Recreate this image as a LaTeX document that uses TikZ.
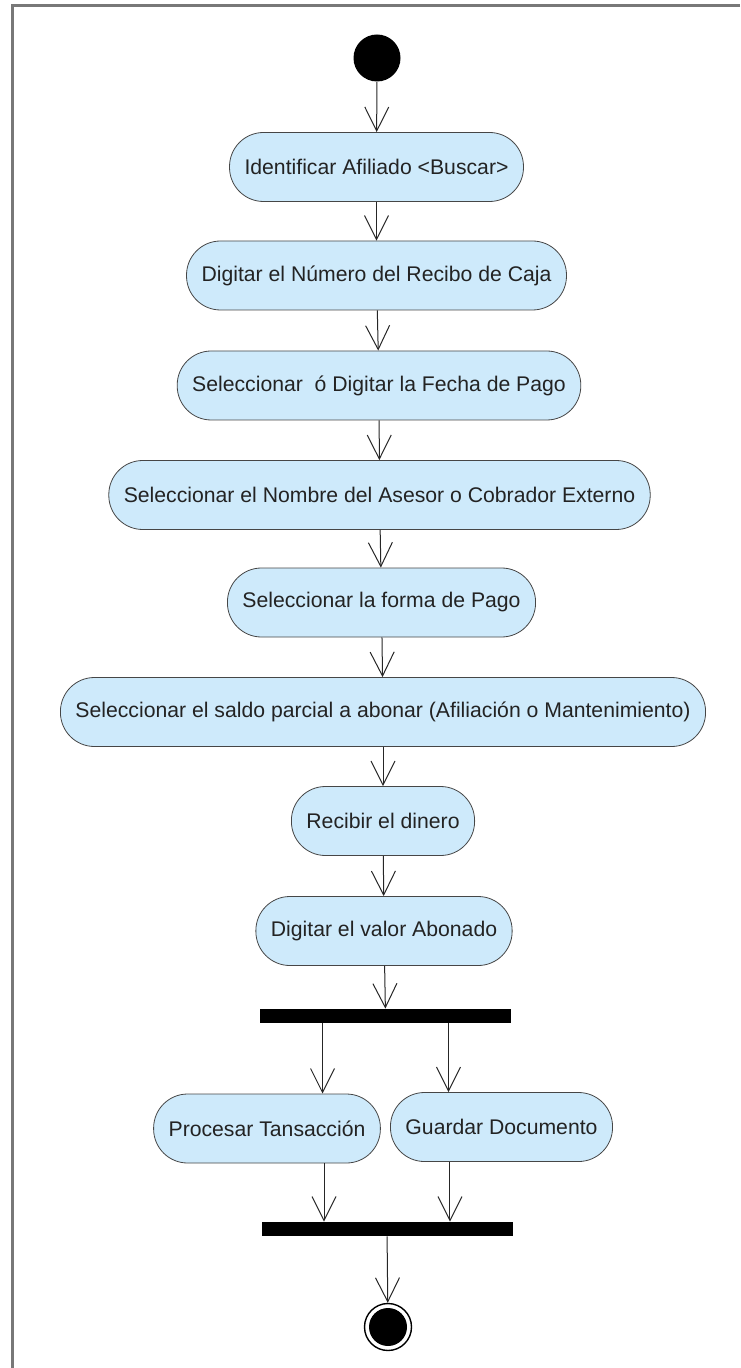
\documentclass[tikz,border=0pt]{standalone}
\usepackage{fontspec}
\setmainfont{Liberation Sans}
\usetikzlibrary{arrows.meta,calc}
\definecolor{actfill}{RGB}{206,234,251}
\definecolor{actline}{RGB}{70,70,70}
\definecolor{txtgray}{RGB}{35,35,35}
\definecolor{framegray}{RGB}{120,120,120}

\begin{document}
\begin{tikzpicture}[x=0.5pt,y=-0.5pt,
  activity/.style={draw=actline,fill=actfill,rounded corners=17pt,minimum height=34.5pt,
    inner xsep=7.5pt,inner ysep=0pt,text=txtgray,font=\fontsize{10.6}{12}\selectfont},
  bar/.style={fill=black,minimum width=125.5pt,minimum height=7pt,inner sep=0pt},
  flow/.style={-{Straight Barb[length=12pt,width=12pt]},line width=0.5pt,color=black!85}]
\useasboundingbox (0,0) rectangle (740,1368);
% frame
\draw[framegray,line width=1.5pt] (740,6) -- (12,6) -- (12,1368);
% initial state
\node[circle,fill=black,minimum size=23.5pt,inner sep=0pt] (inicio) at (377,58) {};
% activities
\node[activity] (a1) at (376.5,167) {Identificar Afiliado <Buscar>};
\node[activity] (a2) at (376.5,275.5) {Digitar el Número del Recibo de Caja};
\node[activity] (a3) at (379,385.5) {Seleccionar\ \ ó Digitar la Fecha de Pago};
\node[activity] (a4) at (379.5,495) {Seleccionar el Nombre del Asesor o Cobrador Externo};
\node[activity] (a5) at (381.5,602.5) {Seleccionar la forma de Pago};
\node[activity] (a6) at (383,712) {Seleccionar el saldo parcial a abonar (Afiliación o Mantenimiento)};
\node[activity] (a7) at (383,821) {Recibir el dinero};
\node[activity] (a8) at (384,931) {Digitar el valor Abonado};
% fork / join bars
\node[bar] (fork) at (385.5,1016) {};
\node[activity] (a9) at (267,1128.5) {Procesar Tansacción};
\node[activity] (a10) at (501.5,1127) {Guardar Documento};
\node[bar] (join) at (387,1229) {};
% final state
\node[circle,draw=black,line width=0.7pt,minimum size=23.5pt,inner sep=0pt] (fin) at (388,1327) {};
\node[circle,fill=black,minimum size=19pt,inner sep=0pt] (finin) at (fin) {};
% transitions
\draw[flow] (inicio) -- (a1);
\foreach \src/\dst in {a1/a2,a2/a3,a3/a4,a4/a5,a5/a6,a6/a7,a7/a8}{
    \draw[flow] (\src) -- (\dst);
}
\draw[flow] (a8) -- (fork);
\coordinate (f1) at ($(fork.south west)!.25!(fork.south east)$);
\coordinate (f2) at ($(fork.south west)!.75!(fork.south east)$);
\draw[flow] (f1) -- (f1 |- a9.north);
\draw[flow] (f2) -- (f2 |- a10.north);
\coordinate (j1) at ($(join.north west)!.25!(join.north east)$);
\coordinate (j2) at ($(join.north west)!.75!(join.north east)$);
\draw[flow] (j1 |- a9.south) -- (j1);
\draw[flow] (j2 |- a10.south) -- (j2);
\draw[flow] (join) -- (fin);
\end{tikzpicture}
\end{document}
